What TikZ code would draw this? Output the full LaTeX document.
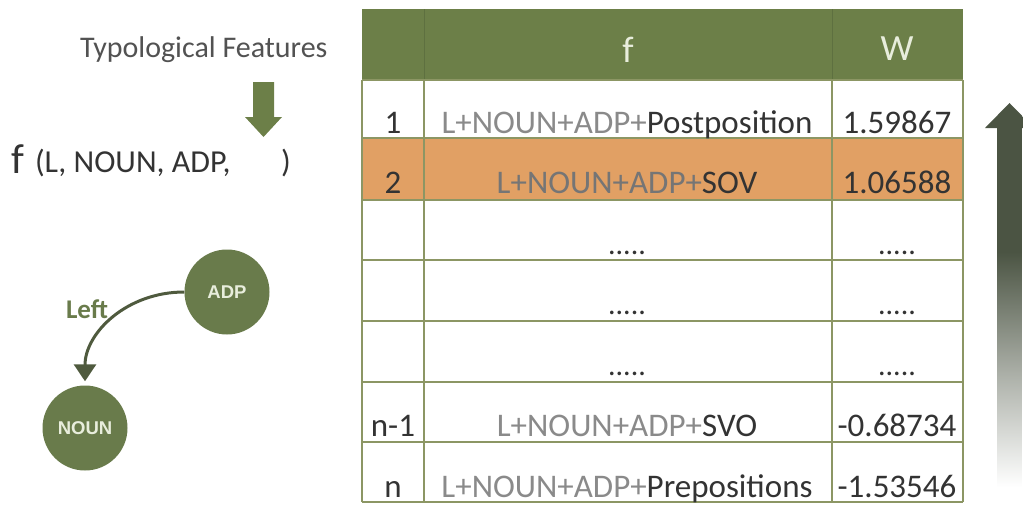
\documentclass[tikz,border=0pt]{standalone}
\usepackage{fontspec}
\setmainfont{Carlito}
\newfontfamily\nodefont{Liberation Sans}
\usetikzlibrary{arrows.meta}

\definecolor{hdrgreen}{HTML}{6C7F48}
\definecolor{hdrrule}{HTML}{5E7040}
\definecolor{nodegreen}{HTML}{697B4B}
\definecolor{gridline}{HTML}{8C9664}
\definecolor{rowhi}{HTML}{E1A064}
\definecolor{ink}{HTML}{333333}
\definecolor{dimink}{HTML}{8A8A8A}
\definecolor{hdrink}{HTML}{E8EDDC}
\definecolor{edgeink}{HTML}{4F5A3E}
\definecolor{shadedark}{HTML}{4B5443}

% vertical fade for the ranking arrow (path box maps to 25bp..75bp)
\pgfdeclareverticalshading{rankfade}{100bp}{color(0bp)=(white); color(26bp)=(white); color(40bp)=(shadedark!45!white); color(56bp)=(shadedark); color(100bp)=(shadedark)}

\newcommand\dimpart[1]{\textcolor{dimink}{#1}}

\tikzset{
  txt/.style={inner sep=0pt, outer sep=0pt, anchor=base, text=ink},
  celltxt/.style={txt, font=\fontsize{33}{39}\selectfont},
  hdrtxt/.style={txt, text=hdrink, font=\fontsize{37}{44}\selectfont},
  dots/.style={txt, font=\fontsize{30}{36}\selectfont},
  wordnode/.style={circle, fill=nodegreen, minimum size=85pt, inner sep=0pt,
    text=hdrink, font=\nodefont\bfseries\fontsize{18.5}{22}\selectfont},
  edge/.style={draw=edgeink, line width=3pt,
    -{Triangle[width=22pt,length=17pt]}, shorten >=4pt},
  grid/.style={draw=gridline, line width=1.4pt},
}

\begin{document}
\begin{tikzpicture}[x=1pt, y=-1pt]
\useasboundingbox (0,0) rectangle (1023,506);

% ---- left: feature function ----
\node[txt, anchor=base west, text=ink!85!white, font=\fontsize{30}{36}\selectfont]
  (typo) at (80,57) {Typological Features};
\fill[hdrgreen] (253,82) -- (274,82) -- (274,117) -- (282,117) -- (263.5,137)
  -- (245,117) -- (253,117) -- cycle;
\node[txt, anchor=base west, font=\fontsize{42}{48}\selectfont] (fname) at (12,173) {f};
\node[txt, anchor=base west, font=\fontsize{32}{38}\selectfont] (fargs) at (35,172) {(L, NOUN, ADP,};
\node[txt, anchor=base west, font=\fontsize{32}{38}\selectfont] (fclose) at (281,172) {)};

% ---- left: dependency arc ----
\node[wordnode] (adp) at (227,292) {ADP};
\node[wordnode] (noun) at (85,428) {NOUN};
\draw[edge] (adp.west) .. controls +(-58,0) and +(0,-52) .. (noun.north);
\node[txt, anchor=base west, text=nodegreen, font=\bfseries\fontsize{27}{32}\selectfont]
  (leftlbl) at (66,318) {Left};

% ---- table ----
\fill[hdrgreen] (362,9) rectangle (963,80);
\fill[rowhi] (362,138) rectangle (963,200);
\draw[hdrrule, line width=1pt] (424,9) -- (424,80) (832,9) -- (832,80);
\foreach \y in {80,138,200,260,321,382,442,502}
  \draw[grid] (362,\y) -- (963,\y);
\foreach \x in {362,424,832,963}
  \draw[grid] (\x,80) -- (\x,502);

\node[hdrtxt] (hf) at (628,62) {f};
\node[hdrtxt] (hw) at (897,60) {W};

\node[celltxt] (r1a) at (393,133) {1};
\node[celltxt] (r1b) at (627,133) {\dimpart{L+NOUN+ADP+}Postposition};
\node[celltxt] (r1c) at (897,133) {1.59867};

\node[celltxt] (r2a) at (393,193) {2};
\node[celltxt] (r2b) at (627,193) {\textcolor{dimink!85!black}{L+NOUN+ADP+}SOV};
\node[celltxt] (r2c) at (897,193) {1.06588};

\node[dots] (r3b) at (627,254) {.....};
\node[dots] (r3c) at (897,254) {.....};
\node[dots] (r4b) at (627,314) {.....};
\node[dots] (r4c) at (897,314) {.....};
\node[dots] (r5b) at (627,375) {.....};
\node[dots] (r5c) at (897,375) {.....};

\node[celltxt] (r6a) at (393,436) {n-1};
\node[celltxt] (r6b) at (627,436) {\dimpart{L+NOUN+ADP+}SVO};
\node[celltxt] (r6c) at (897,436) {-0.68734};

\node[celltxt] (r7a) at (393,497) {n};
\node[celltxt] (r7b) at (627,497) {\dimpart{L+NOUN+ADP+}Prepositions};
\node[celltxt] (r7c) at (897,497) {-1.53546};

% ---- ranking arrow ----
\shade[shading=rankfade] (997,495) -- (997,128) -- (985,128) -- (1009.5,103)
  -- (1034,128) -- (1022,128) -- (1022,495) -- cycle;
\end{tikzpicture}
\end{document}
